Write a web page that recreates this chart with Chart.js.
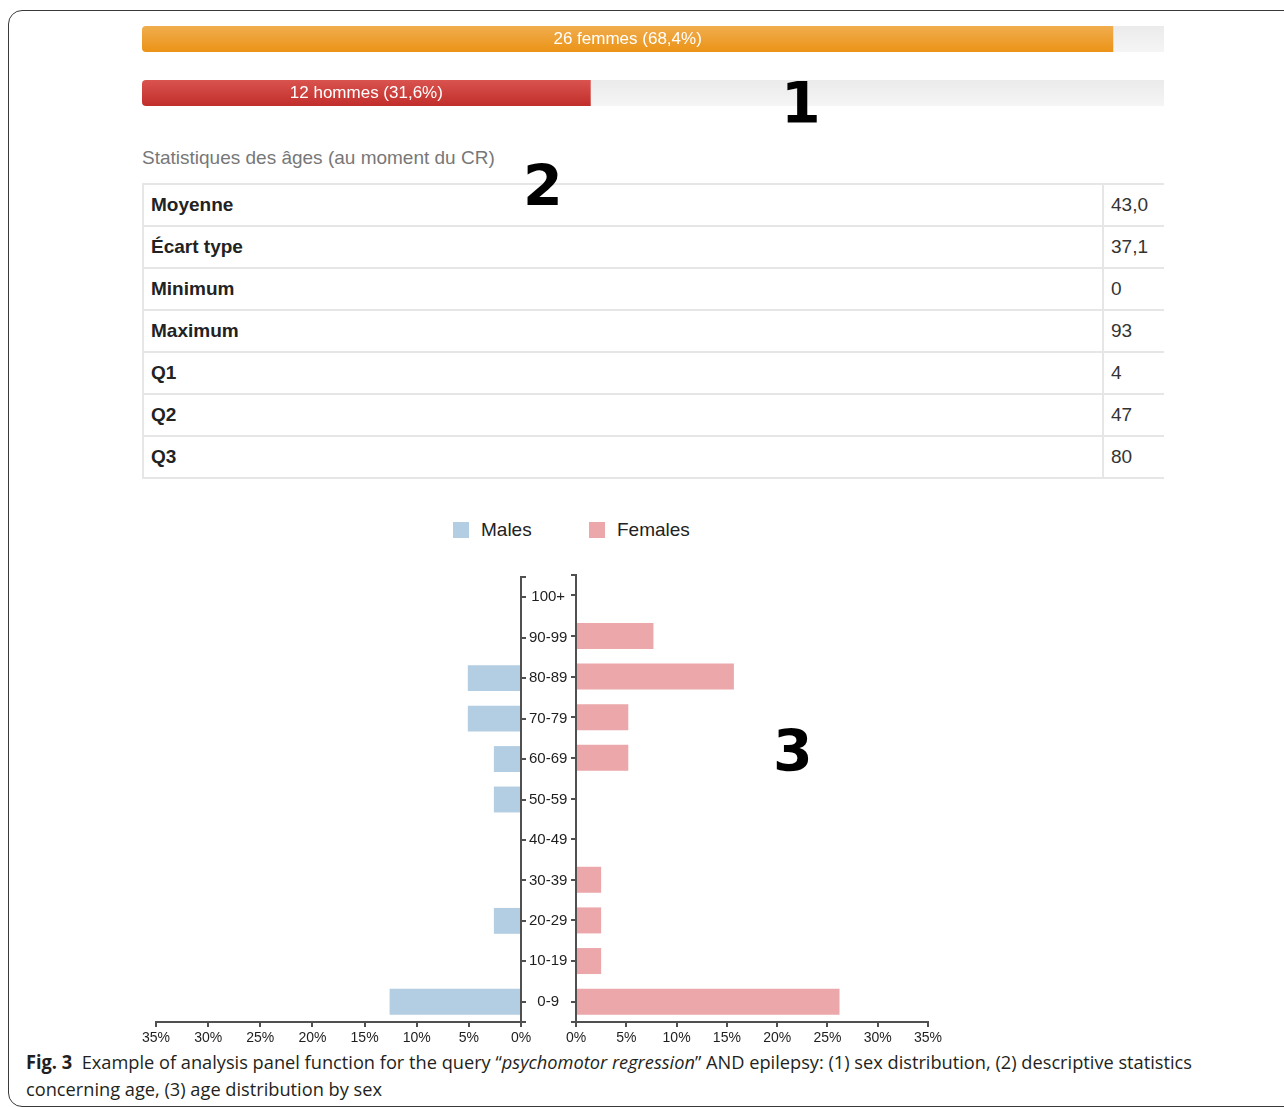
<!DOCTYPE html>
<html lang="fr">
<head>
<meta charset="utf-8">
<script src="https://cdn.jsdelivr.net/npm/chart.js@4.4.1/dist/chart.umd.min.js"></script>
<style>
  html, body { margin: 0; padding: 0; background: #fff; }
  body { width: 1284px; height: 1107px; position: relative; overflow: hidden;
         font-family: "Liberation Sans", Arial, sans-serif; }
  .abs { position: absolute; }
  .frame { left: 8px; top: 10px; width: 1300px; height: 1095px;
           border: 1.5px solid #3a3a3a; border-radius: 14px; }
  #sexWrap { left: 142px; top: 12px; width: 1022px; height: 108px; overflow: hidden; }
  #sexInner { position: relative; width: 1420px; height: 108px; }
  .stats-title { left: 142px; top: 147px; font-size: 19px; color: #777; }
  #statsWrap { left: 142px; top: 183px; width: 1022px; overflow: hidden; }
  #statsWrap table { border-collapse: collapse; width: 1120px; font-size: 19px; color: #333; }
  #statsWrap td { border: 2px solid #e6e6e6; padding: 0 7px; height: 40px; }
  #statsWrap td.k { width: 944px; font-weight: bold; color: #222; }
  .big { font-family: "DejaVu Sans", sans-serif; font-weight: bold; font-size: 57px;
         line-height: 57px; color: #000; }
  .legend { top: 519px; font-size: 19px; color: #222; line-height: 22px; }
  .legend span.sw { display: inline-block; width: 16px; height: 16px; vertical-align: -2px; margin-right: 12px; }
  #maleBox { left: 130px; top: 565px; width: 446px; height: 483px; }
  #femaleBox { left: 561px; top: 565px; width: 393px; height: 483px; }
  #caption { left: 26px; top: 1049px; font-family: "Open Sans", "Noto Sans", sans-serif;
             font-size: 19px; line-height: 27px; color: #231f20; white-space: nowrap;
             transform-origin: 0 0; }
</style>
</head>
<body>
<div class="abs frame"></div>

<div class="abs" id="sexWrap"><div id="sexInner"><canvas id="sexChart"></canvas></div></div>
<div class="abs big" style="left:781px; top:75px;">1</div>

<div class="abs stats-title">Statistiques des âges (au moment du CR)</div>
<div class="abs" id="statsWrap"><table id="statsTable"></table></div>
<div class="abs big" style="left:523px; top:158px;">2</div>

<div class="abs legend" style="left:453px;"><span class="sw" id="swM"></span>Males</div>
<div class="abs legend" style="left:589px;"><span class="sw" id="swF"></span>Females</div>
<div class="abs" id="maleBox"><canvas id="maleChart"></canvas></div>
<div class="abs" id="femaleBox"><canvas id="femaleChart"></canvas></div>
<div class="abs big" style="left:773px; top:723px;">3</div>

<div class="abs" id="caption"><span id="capLine1"><b>Fig. 3</b>&nbsp; Example of analysis panel function for the query “<i>psychomotor regression</i>” AND epilepsy: (1) sex distribution, (2) descriptive statistics</span><br>concerning age, (3) age distribution by sex</div>

<script>
// sex distribution (panel 1)
const sexNames = ["femmes", "hommes"];
const sexCounts = [26, 12];
const sexPercent = [68.4, 31.6];
const sexTop = ["#f0ad4e", "#d9534f"];
const sexBottom = ["#eb9316", "#c12e2a"];

// age statistics (panel 2)
const statNames = ["Moyenne", "Écart type", "Minimum", "Maximum", "Q1", "Q2", "Q3"];
const statValues = ["43,0", "37,1", "0", "93", "4", "47", "80"];

// age pyramid (panel 3), % of all patients
const ageGroups = ["0-9", "10-19", "20-29", "30-39", "40-49", "50-59", "60-69", "70-79", "80-89", "90-99", "100+"];
const malePct = [12.6, 0, 2.6, 0, 0, 2.6, 2.6, 5.1, 5.1, 0, 0];
const femalePct = [26.2, 2.5, 2.5, 2.5, 0, 0, 5.2, 5.2, 15.7, 7.7, 0];
const pctTicksMax = 35;

const maleColor = "#b3cde2";
const femaleColor = "#eba7aa";
const axisColor = "#505050";
const fontFamily = '"Liberation Sans", Arial, sans-serif';

// stats table
const table = document.getElementById("statsTable");
statNames.forEach((name, i) => {
    const tr = document.createElement("tr");
    tr.innerHTML = `<td class="k">${name}</td><td>${statValues[i]}</td>`;
    table.appendChild(tr);
});

document.getElementById("swM").style.background = maleColor;
document.getElementById("swF").style.background = femaleColor;

function vGrad(c, tops, bottoms) {
    const chart = c.chart;
    const top = Array.isArray(tops) ? tops[c.dataIndex] : tops;
    const bottom = Array.isArray(bottoms) ? bottoms[c.dataIndex] : bottoms;
    if (!chart.chartArea || !chart.scales.y) return bottom;
    const y = chart.scales.y.getPixelForValue(c.dataIndex);
    const g = chart.ctx.createLinearGradient(0, y - 13, 0, y + 13);
    g.addColorStop(0, top);
    g.addColorStop(1, bottom);
    return g;
}

const barText = {
    id: "barText",
    afterDatasetsDraw(chart) {
        const ctx = chart.ctx;
        const meta = chart.getDatasetMeta(0);
        ctx.save();
        ctx.fillStyle = "#fff";
        ctx.font = "17px " + fontFamily;
        ctx.textAlign = "center";
        ctx.textBaseline = "middle";
        meta.data.forEach((bar, i) => {
            const pct = sexPercent[i].toFixed(1).replace(".", ",");
            ctx.fillText(`${sexCounts[i]} ${sexNames[i]} (${pct}%)`, (bar.x + bar.base) / 2, bar.y);
        });
        ctx.restore();
    },
};

new Chart(document.getElementById("sexChart"), {
    type: "bar",
    data: {
        labels: sexNames,
        datasets: [
            {
                data: sexPercent,
                backgroundColor: (c) => vGrad(c, sexTop, sexBottom),
                borderRadius: { topLeft: 4, bottomLeft: 4, topRight: 0, bottomRight: 0 },
                borderSkipped: false,
                barThickness: 26,
                inflateAmount: 0,
            },
            {
                data: sexPercent.map((p) => 100 - p),
                backgroundColor: (c) => vGrad(c, "#ebebeb", "#f5f5f5"),
                borderRadius: { topLeft: 0, bottomLeft: 0, topRight: 4, bottomRight: 4 },
                borderSkipped: false,
                barThickness: 26,
                inflateAmount: 0,
            },
        ],
    },
    options: {
        indexAxis: "y",
        animation: false,
        responsive: true,
        maintainAspectRatio: false,
        layout: { padding: 0 },
        plugins: { legend: { display: false }, tooltip: { enabled: false } },
        scales: {
            x: { display: false, stacked: true, min: 0, max: 100 },
            y: { display: false, stacked: true },
        },
    },
    plugins: [barText],
});

// little end ticks at top and bottom of the vertical axes
const outerTicks = {
    id: "outerTicks",
    afterDraw(chart) {
        const y = chart.scales.y;
        const ctx = chart.ctx;
        const right = y.position === "right";
        const x0 = right ? y.left : y.right;
        const dir = right ? 5 : -5;
        ctx.save();
        ctx.strokeStyle = axisColor;
        ctx.lineWidth = 2;
        ctx.beginPath();
        [y.top, y.bottom].forEach((py) => {
            ctx.moveTo(x0, py);
            ctx.lineTo(x0 + dir, py);
        });
        ctx.stroke();
        ctx.restore();
    },
};

function pyramidSide(id, name, values, color, isLeft) {
    return new Chart(document.getElementById(id), {
        type: "bar",
        data: {
            labels: ageGroups,
            datasets: [
                {
                    label: name,
                    data: values,
                    backgroundColor: color,
                    barPercentage: 0.64,
                    categoryPercentage: 1,
                    inflateAmount: 0,
                },
            ],
        },
        options: {
            indexAxis: "y",
            animation: false,
            responsive: true,
            maintainAspectRatio: false,
            layout: {
                padding: isLeft
                    ? { left: 26, top: 10, right: 0, bottom: 0 }
                    : { left: 10, top: 10, right: 26, bottom: 0 },
            },
            plugins: { legend: { display: false }, tooltip: { enabled: false } },
            scales: {
                x: {
                    reverse: isLeft,
                    min: 0,
                    max: pctTicksMax,
                    ticks: {
                        stepSize: 5,
                        callback: (v) => v + "%",
                        padding: 3,
                        color: "#1e1e1e",
                        font: { size: 14, family: fontFamily },
                    },
                    grid: { drawOnChartArea: false, tickLength: 5, color: axisColor, lineWidth: 2 },
                    border: { color: axisColor, width: 2 },
                    afterFit: (s) => { s.height = 26; },
                },
                y: {
                    reverse: true,
                    position: isLeft ? "right" : "left",
                    grid: { offset: false, drawOnChartArea: false, tickLength: 5, color: axisColor, lineWidth: 2 },
                    border: { color: axisColor, width: 2 },
                    ticks: {
                        display: isLeft,
                        padding: 3,
                        crossAlign: "center",
                        color: "#1e1e1e",
                        font: { size: 15, family: fontFamily },
                    },
                    afterFit: (s) => { s.width = isLeft ? 55 : 5; },
                },
            },
        },
        plugins: [outerTicks],
    });
}

pyramidSide("maleChart", "Males", malePct, maleColor, true);
pyramidSide("femaleChart", "Females", femalePct, femaleColor, false);

// caption squeezed to the journal's condensed width
const cap = document.getElementById("caption");
const line1 = document.getElementById("capLine1");
cap.style.transform = `scaleX(${1166 / line1.getBoundingClientRect().width})`;
</script>
</body>
</html>
